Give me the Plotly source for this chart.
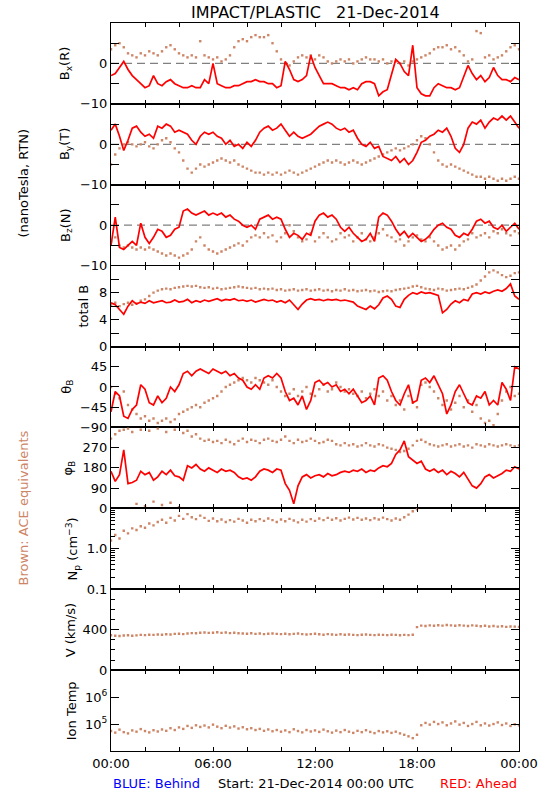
import numpy as np
import plotly.graph_objects as go
from plotly.subplots import make_subplots

# ---------------- data (hours since 21-Dec-2014 00:00 UTC) ----------------
hours = np.arange(0, 24.001, 0.25)          # 97 sample times
hours_np = np.arange(0, 18.001, 0.25)       # plasma density only until 18:00

bx_ahead = [-3, -2.5, -1, 0.5, -1.5, -3, -4, -5,
            -6, -5.5, -3, -5, -5.5, -4.5, -4, -5,
            -5.5, -6, -6, -5.5, -6, -6, -4, -5,
            0, -5, -5.5, -6, -6, -5.5, -5.5, -5,
            -4.5, -4.5, -4, -4.5, -4.5, -5, -5, -6,
            -5.5, 0.5, -1.5, -4, -4.5, -4, -3, 2,
            -1, -3, -5, -5, -5, -5.5, -6, -6,
            -6.5, -6, -6.5, -5, -4.5, -4.5, -5, -8,
            -7, -6.5, -3, 1, 0, -2, -3, 4.5,
            -6, -7.5, -8, -8, -6, -5, -5.5, -6,
            -6, -6.5, -6, -3, -0.5, -2.5, -4, -3,
            -4.5, -3.5, -1, -3, -4, -4, -4.5, -3.5,
            -4]
bx_ace = [3.5, 4.5, 5, 4, 2.5, 2, 1.5, 2.5,
          2, 3, 2.5, 2, 3, 4, 4.5, 3.5,
          2.5, 2, 1.5, 2, 1.5, 5.5, 2, 1.5,
          1, 1.5, 0.5, 1, 2, 4, 5.5, 6,
          5.5, 6.5, 7, 6.5, 6.5, 7, 5, 3,
          1, 0, -0.5, 0.5, 1.5, 2, 1.5, 2,
          1, 2, 1.5, 0.5, 0, 0.5, 1, 0.5,
          1, 0, 0.5, 1, 1.5, 1, 1, 0.5,
          1, 0, 0.5, 0.5, 0, 0.5, -0.5, 0.5,
          1, 1.5, 2, 2.5, 3.5, 4, 4, 4.5,
          3.5, 4, 3, 2, 0.5, 1, 8, 7.5,
          1.5, 2, 1, 1.5, 2, 3, 4, 4.5,
          3.5]
by_ahead = [3.5, 5, 2, -1.5, 1, 4, 4.5, 3,
            2, 2.5, 1.5, 4.5, 4, 5, 4.5, 3,
            3.5, 3, 2.5, 1, 0, 2, 3, 2.5,
            3, 2, 1.5, 0, 1, -0.5, 0, -1,
            0.5, -0.5, 1, 3, 4, 4.5, 3.5, 4,
            5, 3.5, 2, 3, 2, 1.5, 2, 2.5,
            3.5, 4.5, 5, 5.5, 5, 4, 3.5, 4,
            3, 3.5, 1.5, 0, -0.5, 0.5, -1, -0.5,
            -3, -3.5, -4, -3, -4.5, -3.5, -5, -4,
            -2, 0.5, 1, 2, 2.5, 3.5, 3, 4,
            2, -1, -2, 0, 4, 5.5, 5, 6,
            4, 5.5, 6.5, 6, 7, 6, 7, 5.5,
            4]
by_ace = [-5, -2.5, -1, 0, 0.5, 0, -0.5, 0,
          0.5, -0.5, -1, 0, 1, 1.5, 0.5, -1,
          -2, -4, -6, -7, -6, -5, -5.5, -5,
          -4.5, -4, -3.5, -4, -4.5, -4, -5, -5.5,
          -6, -6.5, -7, -7, -7.5, -7, -7.5, -7,
          -7.5, -7, -6.5, -7, -7.5, -7, -6.5, -6,
          -5.5, -5, -4.5, -4, -4.5, -4, -4.5, -5,
          -4.5, -4, -4.5, -5, -4.5, -4, -3.5, -3,
          -2.5, -2, -1.5, -1, -1.5, -1, -0.5, 0,
          1, 2, 1.5, 0, -2, -4, -5, -5.5,
          -5, -5.5, -6, -6.5, -7, -7.5, -8, -8,
          -8.5, -8, -8.5, -9, -8.5, -9, -8.5, -8,
          -8.5]
bz_ahead = [-5, 2, -5.5, -6, -5, -4, -5, 0.5,
            -3, -4.5, -3, -1, -1.5, -3, -2.5, -1,
            -0.5, 3.5, 4, 3, 2.5, 3, 3.5, 2.5,
            3, 2.5, 3, 2, 2.5, 1.5, 1, 0,
            -0.5, 0, -1, 1.5, 2, 2.5, 1.5, 2,
            1.5, -1, -3, -2, -2.5, -3.5, -2, -2.5,
            1, 2.5, 3, 2, 2.5, 1.5, -0.5, -1.5,
            -0.5, -2, -3, -4, -3.5, -2, -4, 2,
            3, 2.5, 1, -1, -2.5, -1.5, -3, -2,
            -3, -4, -3.5, -2.5, -1, 0, 0.5, -0.5,
            -1, -2.5, -3, -2, -2.5, -1, 1, 1.5,
            0.5, 1, -0.5, -1, 0, -1.5, -0.5, 0.5,
            -1]
bz_ace = [-4, -3, -5, -5.5, -5, -5.5, -6, -5.5,
          -6, -5.5, -6, -6.5, -7, -7.5, -7, -7.5,
          -8, -7.5, -7, -6, -4, -3, -5, -6,
          -6.5, -7, -6.5, -6, -5.5, -5, -4.5, -5,
          -4, -3, -2.5, -3, -2, -3, -2.5, -4,
          -3, -2, 0, -1.5, -3, -4, -3.5, -2,
          -4, -3, -2, -3, -4, -3.5, -2, -3,
          -2.5, -4, -3, -2, -3.5, -4, -3, -2,
          -1, -2.5, -3, -4, -3.5, -5, -4, -3,
          -2.5, -3.5, -4, -3, -4, -5, -6, -5.5,
          -5, -6, -5, -4, -3.5, -2, -3, -2.5,
          -2, -3, -1.5, -2, -1, -2, -2.5, -1.5,
          -2]
bt_ahead = [6.5, 6.2, 5.5, 4.8, 6.0, 6.8, 6.3, 6.6,
            6.4, 6.8, 6.5, 6.7, 6.8, 6.5, 6.6, 6.9,
            6.6, 6.7, 7.0, 6.5, 6.8, 6.6, 6.9, 6.7,
            6.9, 7.1, 6.8, 7.0, 6.9, 7.1, 6.8, 6.9,
            6.7, 6.9, 6.6, 6.8, 7.0, 6.8, 6.9, 6.6,
            6.8, 6.5, 6.9, 6.2, 5.5, 6.3, 6.9, 7.1,
            6.9, 7.0, 6.8, 7.0, 6.9, 7.0, 6.8, 6.9,
            6.7, 6.6, 6.0, 5.7, 5.5, 6.0, 5.6, 6.2,
            7.2, 7.5, 7.0, 6.0, 5.8, 7.0, 7.6, 8.0,
            7.8, 8.1, 7.9, 8.0, 7.8, 7.6, 5.0, 5.5,
            6.3, 6.8, 6.5, 7.0, 6.8, 7.8, 8.0, 7.8,
            8.1, 7.9, 8.2, 8.4, 8.2, 8.6, 9.3, 7.5,
            7.0]
bt_ace = [6.2, 6.5, 6.0, 6.3, 6.5, 6.2, 6.4, 6.8,
          7.0, 7.5, 8.0, 8.3, 8.5, 8.6, 8.5, 8.7,
          8.8, 8.9, 9.0, 8.9, 9.0, 8.8, 8.7, 8.8,
          8.6, 8.7, 8.5, 8.6, 8.7, 8.8, 8.9, 8.8,
          8.7, 8.6, 8.7, 8.5, 8.6, 8.5, 8.6, 8.4,
          8.5, 8.3, 8.4, 8.5, 8.3, 8.4, 8.5, 8.3,
          8.4, 8.5, 8.3, 8.4, 8.2, 8.4, 8.3, 8.5,
          8.3, 8.4, 8.2, 8.3, 8.4, 8.2, 8.3, 8.1,
          8.2, 8.3, 8.2, 8.4, 8.5, 8.6, 8.7, 8.9,
          9.0, 8.8, 8.6, 8.5, 8.4, 8.6, 8.5, 8.3,
          8.4, 8.5, 8.6, 8.5, 8.7, 8.9, 9.2, 9.8,
          10.4, 11.0, 11.3, 11.0, 10.6, 10.3, 10.5, 10.9,
          11.0]
theta_ahead = [-55, -10, -20, -65, -70, -50, -40, 5,
               -5, -35, -40, -20, -35, -25, 0, -10,
               5, 30, 35, 25, 35, 40, 35, 30,
               40, 35, 30, 35, 25, 30, 20, 15,
               0, -5, 5, -5, 20, 25, 20, 30,
               20, -10, -30, -25, -40, -20, -50, -30,
               10, 15, 5, 10, 0, 5, -10, -5,
               -15, -5, -20, -35, -30, -20, -40, 20,
               25, 15, -10, -30, -40, -15, 5, -35,
               -30, 15, 20, 10, 25, 5, -15, -60,
               -40, -10, 5, -15, -35, -40, -20, -25,
               -10, -40, -30, -40, 10, -5, -30, 45,
               40]
theta_ace = [0, -15, -25, -10, -40, -50, -60, -70,
             -65, -75, -70, -80, -75, -70, -78, -72,
             -60, -55, -50, -45, -40, -45, -35, -30,
             -25, -20, -10, 0, 5, 10, 15, 20,
             15, 10, 20, 15, 10, 5, 15, 0,
             -10, -20, -15, -5, -20, -10, 0, -15,
             -20, -5, 5, -10, -5, 10, 0, -10,
             -5, -15, -20, -10, -25, -15, -5, -20,
             -10, -30, -20, -40, -30, -50, -20, -35,
             -45, 5, 10, 0, -10, -25, -40, -30,
             -50, -35, -20, -45, -30, -55, -40, -70,
             -80, -75, -85, -60, -30, -10, 0, -20,
             -15]
phi_ahead = [165, 120, 150, 260, 110, 115, 125, 165,
             150, 160, 125, 140, 165, 150, 170, 145,
             140, 125, 190, 180, 195, 175, 165, 180,
             170, 160, 175, 165, 170, 160, 140, 130,
             135, 125, 140, 165, 175, 170, 160, 175,
             170, 110, 80, 20, 100, 140, 150, 135,
             145, 150, 140, 155, 145, 150, 160, 165,
             160, 170, 165, 175, 160, 170, 165, 180,
             190, 185, 200, 240, 260, 300, 230, 215,
             200, 210, 175, 165, 175, 160, 170, 150,
             165, 155, 140, 160, 130, 100, 90, 110,
             140, 150, 135, 145, 155, 170, 165, 185,
             175]
phi_ace = [310, 330, 345, 350, 355, 340, 20, 350,
           10, 345, 30, 355, 15, 340, 25, 350,
           5, 335, 345, 320, 330, 310, 300, 305,
           295, 300, 290, 305, 295, 285, 300, 310,
           295, 305, 300, 290, 305, 310, 300, 295,
           305, 320, 300, 290, 305, 295, 300, 310,
           300, 290, 295, 305, 300, 285, 280, 290,
           280, 285, 275, 280, 290, 280, 275, 285,
           280, 270, 265, 260, 250, 255, 265, 280,
           300, 305, 295, 285, 280, 275, 280, 285,
           275, 280, 285, 275, 280, 270, 285, 280,
           275, 285, 280, 275, 280, 285, 280, 275,
           280]
np_ace = [1.6, 2.2, 1.8, 2.8, 2.4, 3.2, 2.9, 3.6,
          3.3, 4.2, 3.8, 4.6, 5.2, 4.4, 5.8, 5.0,
          6.5, 5.5, 7.2, 6.0, 5.4, 6.6, 5.8, 4.9,
          5.6, 4.8, 5.3, 4.6, 5.1, 4.7, 5.5, 5.0,
          4.4, 5.2, 4.8, 5.4, 4.9, 5.6, 5.1, 4.6,
          5.3, 4.8, 5.5, 5.0, 4.5, 5.2, 4.7, 5.4,
          4.9, 5.6, 5.1, 5.8, 5.2, 5.7, 5.0, 5.5,
          5.9, 5.3, 5.8, 5.2, 5.6, 5.1, 5.7, 5.3,
          5.9, 5.4, 5.0, 5.6, 5.2, 6.0, 7.0, 8.5,
          9.5]
v_ace = [345, 340, 338, 342, 345, 340, 344, 348,
         346, 350, 348, 352, 350, 355, 352, 358,
         360, 356, 362, 366, 364, 370, 372, 368,
         370, 374, 368, 372, 366, 370, 364, 362,
         360, 364, 358, 362, 356, 360, 362, 358,
         356, 360, 354, 358, 362, 356, 352, 356,
         360, 354, 350, 356, 352, 348, 354, 350,
         352, 348, 346, 350, 352, 348, 346, 350,
         348, 346, 350, 348, 345, 348, 346, 350,
         425, 440, 436, 442, 438, 444, 440, 446,
         442, 438, 444, 440, 436, 442, 438, 434,
         438, 432, 436, 430, 434, 428, 432, 430,
         428]
tion_ace = [5.5e4, 4.8e4, 6.2e4, 5.0e4, 4.5e4, 5.8e4, 5.2e4, 6.5e4,
            5.5e4, 4.9e4, 5.9e4, 5.3e4, 6.3e4, 5.6e4, 7.0e4, 6.0e4,
            7.5e4, 6.6e4, 8.5e4, 7.2e4, 9.0e4, 7.8e4, 8.8e4, 7.5e4,
            9.5e4, 8.0e4, 7.0e4, 8.6e4, 7.4e4, 8.2e4, 6.8e4, 7.6e4,
            6.4e4, 7.0e4, 6.0e4, 6.6e4, 5.6e4, 6.3e4, 5.4e4, 6.0e4,
            5.2e4, 5.8e4, 5.0e4, 6.4e4, 5.5e4, 4.9e4, 6.0e4, 5.3e4,
            5.8e4, 5.1e4, 6.2e4, 5.4e4, 4.8e4, 5.7e4, 5.0e4, 6.0e4,
            5.2e4, 4.7e4, 5.6e4, 5.0e4, 5.9e4, 5.1e4, 4.6e4, 5.5e4,
            4.9e4, 5.4e4, 4.7e4, 5.2e4, 4.5e4, 4.0e4, 3.5e4, 3.0e4,
            4.0e4, 9.0e4, 1.1e5, 9.5e4, 1.2e5, 1.0e5, 1.15e5, 9.0e4,
            1.05e5, 1.25e5, 9.5e4, 1.1e5, 8.5e4, 1.0e5, 1.2e5, 9.0e4,
            1.05e5, 8.8e4, 1.0e5, 1.15e5, 9.2e4, 1.05e5, 8.5e4, 9.8e4,
            9.0e4]

x_tickvals = [0, 6, 12, 18, 24]
x_ticktext = ["00:00", "06:00", "12:00", "18:00", "00:00"]

panel_titles = ["B<sub>x</sub>(R)", "B<sub>y</sub>(T)", "B<sub>z</sub>(N)", "total B",
                "θ<sub>B</sub>", "φ<sub>B</sub>", "N<sub>p</sub> (cm<sup>−3</sup>)",
                "V (km/s)", "Ion Temp"]

# ---------------- styling ----------------
RED = "#ff0000"
BROWN = "#cd8566"
FONT = "DejaVu Sans"
W, H = 550, 800
ML, MR, MT, MB = 111, 24, 23, 49
PW, PH = W - ML - MR, H - MT - MB


def px_x(px):
    return (px - ML) / PW


def px_y(py):
    return (H - MB - py) / PH


fig = make_subplots(rows=9, cols=1, shared_xaxes=True, vertical_spacing=0)


def ahead(row, y):
    fig.add_trace(go.Scatter(x=hours, y=y, mode="lines",
                             line=dict(color=RED, width=1.7),
                             hoverinfo="skip", showlegend=False), row=row, col=1)


def ace(row, y, x=hours):
    fig.add_trace(go.Scatter(x=x, y=y, mode="markers",
                             marker=dict(color=BROWN, size=2.4, symbol="square"),
                             hoverinfo="skip", showlegend=False), row=row, col=1)


for r, (a, b) in enumerate([(bx_ahead, bx_ace), (by_ahead, by_ace), (bz_ahead, bz_ace)], start=1):
    fig.add_trace(go.Scatter(x=[0, 24], y=[0, 0], mode="lines",
                             line=dict(color="#808080", width=1.2, dash="8px,5px"),
                             hoverinfo="skip", showlegend=False), row=r, col=1)
    ace(r, b)
    ahead(r, a)

ace(4, bt_ace); ahead(4, bt_ahead)
ace(5, theta_ace); ahead(5, theta_ahead)
ace(6, phi_ace); ahead(6, phi_ahead)
ace(7, np_ace, hours_np)
ace(8, v_ace)
ace(9, tion_ace)

# ---------------- axes ----------------
minor_common = dict(ticks="inside", tickcolor="black", showgrid=False)
for r in range(1, 10):
    fig.update_xaxes(range=[0, 24], tickvals=x_tickvals, ticktext=x_ticktext,
                     ticks="inside", ticklen=4, tickcolor="black",
                     minor=dict(tickvals=[2, 4, 8, 10, 14, 16, 20, 22], ticklen=4,
                                **minor_common),
                     showline=True, linecolor="black", linewidth=1, mirror="ticks",
                     showgrid=False, zeroline=False,
                     tickfont=dict(family=FONT, size=13, color="black"),
                     showticklabels=(r == 9), row=r, col=1)

yax_common = dict(ticks="inside", ticklen=8, tickcolor="black", showline=True,
                  linecolor="black", linewidth=1, mirror="ticks", showgrid=False,
                  zeroline=False, tickfont=dict(family=FONT, size=13, color="black"))

for r in (1, 2, 3):
    fig.update_yaxes(range=[-10, 10], tickvals=[-10, 0], ticktext=["−10", "0"],
                     minor=dict(tickvals=[-5, 5], ticklen=8, **minor_common),
                     row=r, col=1, **yax_common)
fig.update_yaxes(range=[0, 12], tickvals=[0, 4, 8], ticktext=["0", "4", "8"],
                 minor=dict(tickvals=[2, 6, 10], ticklen=8, **minor_common),
                 row=4, col=1, **yax_common)
fig.update_yaxes(range=[-90, 90], tickvals=[-90, -45, 0, 45],
                 ticktext=["−90", "−45", "0", "45"], row=5, col=1, **yax_common)
fig.update_yaxes(range=[0, 360], tickvals=[0, 90, 180, 270],
                 ticktext=["0", "90", "180", "270"], row=6, col=1, **yax_common)
fig.update_yaxes(type="log", range=[-1, 1], tickvals=[0.1, 1], ticktext=["0.1", "1.0"],
                 minor=dict(tickvals=[0.2, 0.3, 0.4, 0.5, 0.6, 0.7, 0.8, 0.9,
                                      2, 3, 4, 5, 6, 7, 8, 9],
                            ticklen=4, **minor_common),
                 row=7, col=1, **yax_common)
fig.update_yaxes(range=[0, 800], tickvals=[0, 400], ticktext=["0", "400"],
                 minor=dict(tickvals=[100, 200, 300, 500, 600, 700], ticklen=4,
                            **minor_common),
                 row=8, col=1, **yax_common)
fig.update_yaxes(type="log", range=[4, 7], tickvals=[1e5, 1e6],
                 ticktext=["10<sup>5</sup>", "10<sup>6</sup>"],
                 row=9, col=1, **yax_common)

# ---------------- annotations ----------------
ann = []
label_x = [65, 65, 65, 83, 66, 68, 72, 70, 71]
for i, (t, lx) in enumerate(zip(panel_titles, label_x)):
    ymid = MT + (i + 0.5) * PH / 9
    ann.append(dict(text=t, x=px_x(lx), y=px_y(ymid), xref="paper", yref="paper",
                    xanchor="center", yanchor="middle", textangle=-90, showarrow=False,
                    font=dict(family=FONT, size=13, color="black")))

ann.append(dict(text="(nanoTesla, RTN)", x=px_x(21), y=px_y(183), xref="paper", yref="paper",
                xanchor="center", yanchor="middle", textangle=-90, showarrow=False,
                font=dict(family=FONT, size=13, color="black")))
ann.append(dict(text="Brown: ACE equivalents", x=px_x(21), y=px_y(508), xref="paper",
                yref="paper", xanchor="center", yanchor="middle", textangle=-90,
                showarrow=False, font=dict(family=FONT, size=13, color=BROWN)))
ann.append(dict(text="IMPACT/PLASTIC   21-Dec-2014", x=0.5, y=px_y(12), xref="paper",
                yref="paper", xanchor="center", yanchor="middle", showarrow=False,
                font=dict(family=FONT, size=16, color="black")))
ann.append(dict(text="BLUE: Behind", x=0, y=px_y(783), xref="paper", yref="paper",
                xanchor="left", yanchor="middle", showarrow=False,
                font=dict(family=FONT, size=13, color="#0000ff")))
ann.append(dict(text="Start: 21-Dec-2014 00:00 UTC", x=px_x(320), y=px_y(783), xref="paper",
                yref="paper", xanchor="center", yanchor="middle", showarrow=False,
                font=dict(family=FONT, size=13, color="black")))
ann.append(dict(text="RED: Ahead", x=1, y=px_y(783), xref="paper", yref="paper",
                xanchor="right", yanchor="middle", showarrow=False,
                font=dict(family=FONT, size=13, color=RED)))

fig.update_layout(width=W, height=H, margin=dict(l=ML, r=MR, t=MT, b=MB, pad=0),
                  paper_bgcolor="white", plot_bgcolor="white", hovermode=False,
                  font=dict(family=FONT, size=13, color="black"),
                  annotations=ann, showlegend=False)

fig.write_html("out.html", config={"displayModeBar": False, "staticPlot": True},
               post_script="document.body.style.margin='0';document.body.style.padding='0';")
